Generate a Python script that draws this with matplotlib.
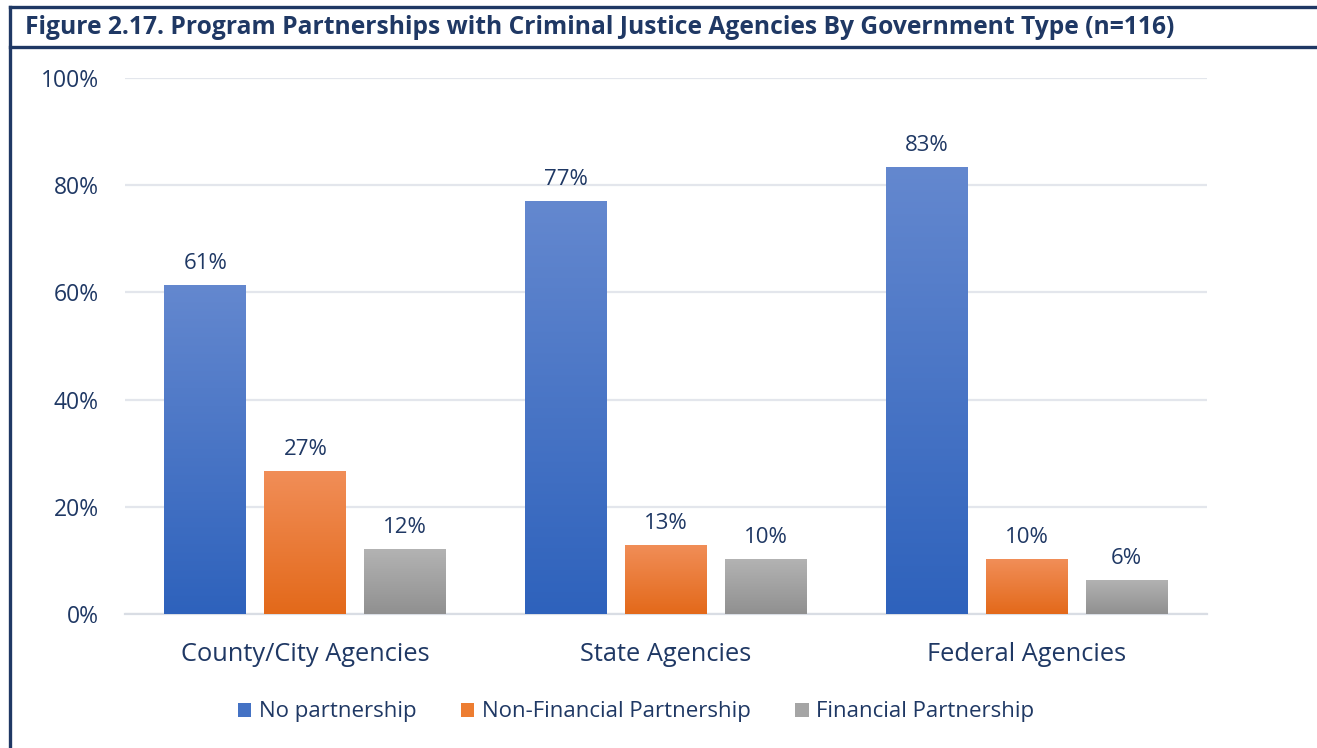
import numpy as np
import matplotlib
matplotlib.use("Agg")
import matplotlib.pyplot as plt
from matplotlib.colors import LinearSegmentedColormap
from matplotlib.lines import Line2D
from matplotlib.patches import Patch

categories = ["County/City Agencies", "State Agencies", "Federal Agencies"]
series_names = ["No partnership", "Non-Financial Partnership", "Financial Partnership"]
no_partnership = [61.4, 77.0, 83.4]
non_financial = [26.7, 12.9, 10.2]
financial = [12.1, 10.2, 6.4]
y_ticks = [0, 20, 40, 60, 80, 100]
title = "Figure 2.17. Program Partnerships with Criminal Justice Agencies By Government Type (n=116)"

series_values = [no_partnership, non_financial, financial]
grad_colors = [("#2E62BC", "#6488CF"), ("#E3691A", "#F18E58"), ("#909090", "#B3B3B3")]
mid_colors = ["#4472C4", "#ED7D31", "#A5A5A5"]
navy = "#1F3864"
text_col = "#1F3864"

plt.rcParams['font.family'] = ['Open Sans', 'DejaVu Sans']

W, H = 1317, 748
fig = plt.figure(figsize=(W / 100, H / 100), dpi=100)
ax = fig.add_axes([125 / W, 1 - 614 / H, (1207 - 125) / W, (614 - 78) / H])

x = np.arange(len(categories))
width = 0.227
offsets = [-0.277, 0, 0.277]
grad = np.linspace(0, 1, 256).reshape(-1, 1)

for vals, off, (c0, c1), mc in zip(series_values, offsets, grad_colors, mid_colors):
    bars = ax.bar(x + off, vals, width, color=mc, zorder=3, linewidth=0)
    cmap = LinearSegmentedColormap.from_list("g", [c0, c1])
    for b, v in zip(bars, vals):
        bx, by = b.get_x(), b.get_y()
        bw, bh = b.get_width(), b.get_height()
        im = ax.imshow(grad, extent=[bx, bx + bw, by, by + bh], origin="lower",
                       aspect="auto", cmap=cmap, zorder=4, interpolation="bicubic")
        im.set_clip_path(b)
        ax.annotate(f"{v:.0f}%", (bx + bw / 2, by + bh), xytext=(0, 8),
                    textcoords="offset points", ha="center", va="bottom",
                    fontsize=16, color=text_col, zorder=5)

ax.set_xlim(-0.5, 2.5)
ax.set_ylim(0, 100)
ax.set_yticks(y_ticks)
ax.set_yticklabels([f"{t}%" for t in y_ticks])
ax.set_xticks(x)
ax.set_xticklabels(categories)
ax.tick_params(axis="y", length=0, labelsize=16.5, labelcolor=text_col, pad=19)
ax.tick_params(axis="x", length=0, labelsize=18.3, labelcolor=text_col, pad=20)
ax.grid(axis="y", color="#E3E6EC", linewidth=1.6, zorder=0)
ax.set_axisbelow(True)
for s in ["top", "right", "left"]:
    ax.spines[s].set_visible(False)
ax.spines["bottom"].set_color("#D9DDE4")
ax.spines["bottom"].set_linewidth(1.6)
ax.spines["bottom"].set_zorder(2)

handles = [Patch(facecolor=c, edgecolor="none") for c in mid_colors]
fig.legend(handles, series_names, loc="center", bbox_to_anchor=(636 / W, 1 - 712 / H),
           ncol=3, frameon=False, fontsize=16, labelcolor=text_col,
           handlelength=0.6, handleheight=0.6, handletextpad=0.35, columnspacing=2.0)

fig.text(25 / W, 1 - 28 / H, title, ha="left", va="center", fontsize=17.75,
         fontweight="bold", color=navy)

lw = 2.4
fig.add_artist(Line2D([10 / W, 10 / W], [0, 1 - 7 / H], color=navy, lw=lw, transform=fig.transFigure))
fig.add_artist(Line2D([10 / W, 1], [1 - 7 / H, 1 - 7 / H], color=navy, lw=lw, transform=fig.transFigure))
fig.add_artist(Line2D([10 / W, 1], [1 - 47 / H, 1 - 47 / H], color=navy, lw=lw, transform=fig.transFigure))

fig.savefig("out.png", dpi=100)
